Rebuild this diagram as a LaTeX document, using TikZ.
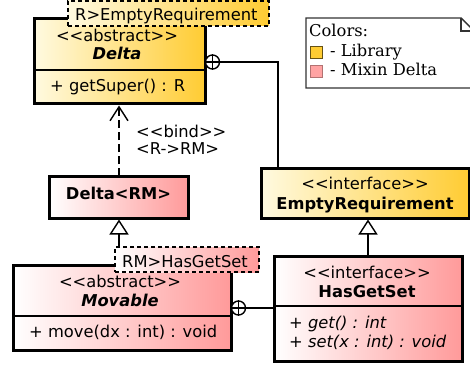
\documentclass[tikz,border=0pt]{standalone}
\usepackage{fontspec}
\setmainfont{DejaVu Sans}
\newfontfamily\legendfont{DejaVu Serif}
\usetikzlibrary{arrows.meta}
\definecolor{ylight}{HTML}{FFFAE0}
\definecolor{ydark}{HTML}{FFCC33}
\definecolor{pdark}{HTML}{FF9A9A}
\definecolor{ysq}{HTML}{FFCC33}
\definecolor{psq}{HTML}{FFA3A3}
\tikzset{
 txt/.style={font=\fontsize{16.3}{19}\selectfont, inner sep=0pt, anchor=base},
 ltxt/.style={txt, anchor=base west},
 classbox/.style={draw=black, line width=3pt, inner sep=0pt, outer sep=0pt, anchor=north west},
 lib/.style={left color=ylight, right color=ydark},
 mix/.style={left color=white, right color=pdark},
 sepline/.style={line width=1.5pt},
 tmpl/.style={draw=black, line width=1.3pt, dash pattern=on 4pt off 3pt, inner sep=0pt, outer sep=0pt, anchor=north west},
 conn/.style={line width=1.4pt},
 gen/.style={conn, -{Triangle[open,length=15pt,width=19pt]}},
 real/.style={conn, dash pattern=on 8pt off 4pt, -{Straight Barb[length=14pt,width=18pt]}},
 nestc/.style={line width=1.4pt, draw, circle, minimum size=14pt, inner sep=0pt, fill=white},
}
\begin{document}
\begin{tikzpicture}[x=1pt,y=-1pt]
\useasboundingbox (0,0) rectangle (470,366);

% boxes
\node[classbox, lib, minimum width=171pt, minimum height=85pt] (delta) at (34,19) {};
\node[classbox, mix, minimum width=139pt, minimum height=42pt] (deltarm) at (49,176) {};
\node[classbox, lib, minimum width=208pt, minimum height=50pt] (empty) at (261,168) {};
\node[classbox, mix, minimum width=218pt, minimum height=85pt] (movable) at (13,265) {};
\node[classbox, mix, minimum width=188pt, minimum height=105pt] (hasgs) at (274,256) {};

% connectors
\coordinate (dtop) at (119,105.5);
\coordinate (drmtop) at (119,176);
\coordinate (drmbot) at (119,219.5);
\coordinate (mvtop) at (119,247);
\draw[real] (drmtop) -- (dtop);
\draw[gen] (mvtop) -- (drmbot);
\draw[gen] (hasgs.north -| 368,0) -- ([yshift=-1.5pt]empty.south -| 368,0);

\node[nestc] (n1) at (212.5,62) {};
\draw[conn] (n1.north) -- (n1.south) (n1.west) -- (n1.east);
\coordinate (k1) at (278,62);
\draw[conn] (n1.east) -- (k1) -- (empty.north -| k1);

\node[nestc] (n2) at (238.5,308) {};
\draw[conn] (n2.north) -- (n2.south) (n2.west) -- (n2.east);
\draw[conn] (n2.east) -- (hasgs.west |- n2.east);

% separators
\draw[sepline] (34,70) -- (205,70);
\draw[sepline] (13,316) -- (231,316);
\draw[sepline] (274,306) -- (462,306);

% templates
\node[tmpl, lib, minimum width=201pt, minimum height=25pt] (t1) at (68,1) {};
\node[ltxt] (t1txt) at (75,21) {R>EmptyRequirement};
\node[tmpl, mix, minimum width=144pt, minimum height=25pt] (t2) at (115,247) {};
\node[ltxt] (t2txt) at (122,267) {RM>HasGetSet};

% texts
\node[txt] (dst) at (117,42) {<{}<abstract>{}>};
\node[txt] (dname) at (117,60) {\bfseries\itshape Delta};
\node[ltxt] (dop) at (50,92) {+ getSuper() : R};

\node[txt] (drmname) at (118.5,199) {\bfseries Delta<RM>};
\node[ltxt] (bind1) at (136,137) {<{}<bind>{}>};
\node[ltxt] (bind2) at (136,154) {<R->RM>};

\node[txt] (est) at (365,189) {<{}<interface>{}>};
\node[txt] (ename) at (365,209) {\bfseries EmptyRequirement};

\node[txt] (mst) at (120,287) {<{}<abstract>{}>};
\node[txt] (mname) at (120,306) {\bfseries\itshape Movable};
\node[ltxt] (mop) at (29,337) {+ move(dx : int) : void};

\node[txt] (hst) at (367,278) {<{}<interface>{}>};
\node[txt] (hname) at (367,297) {\bfseries HasGetSet};
\node[ltxt] (hop1) at (289,328) {\itshape + get() : int};
\node[ltxt] (hop2) at (289,347) {\itshape + set(x : int) : void};

% legend
\draw[line width=1.4pt, draw=black!80, fill=white] (306,18) -- (461,18) -- (472,29) -- (472,88) -- (306,88) -- cycle;
\draw[line width=1.2pt, draw=black!80] (461,18) -- (461,31) -- (472,31);
\node[ltxt, font=\legendfont\fontsize{16.3}{19}\selectfont] (lg0) at (309,37) {Colors:};
\node[draw=black!60!ysq, fill=ysq, line width=0.8pt, minimum size=12pt, inner sep=0pt] (sq1) at (316,52) {};
\node[ltxt, font=\legendfont\fontsize{16.3}{19}\selectfont] (lg1) at (330,57) {- Library};
\node[draw=black!30!psq, fill=psq, line width=0.8pt, minimum size=12pt, inner sep=0pt] (sq2) at (316,71) {};
\node[ltxt, font=\legendfont\fontsize{16.3}{19}\selectfont] (lg2) at (330,76) {- Mixin Delta};
\end{tikzpicture}
\end{document}
